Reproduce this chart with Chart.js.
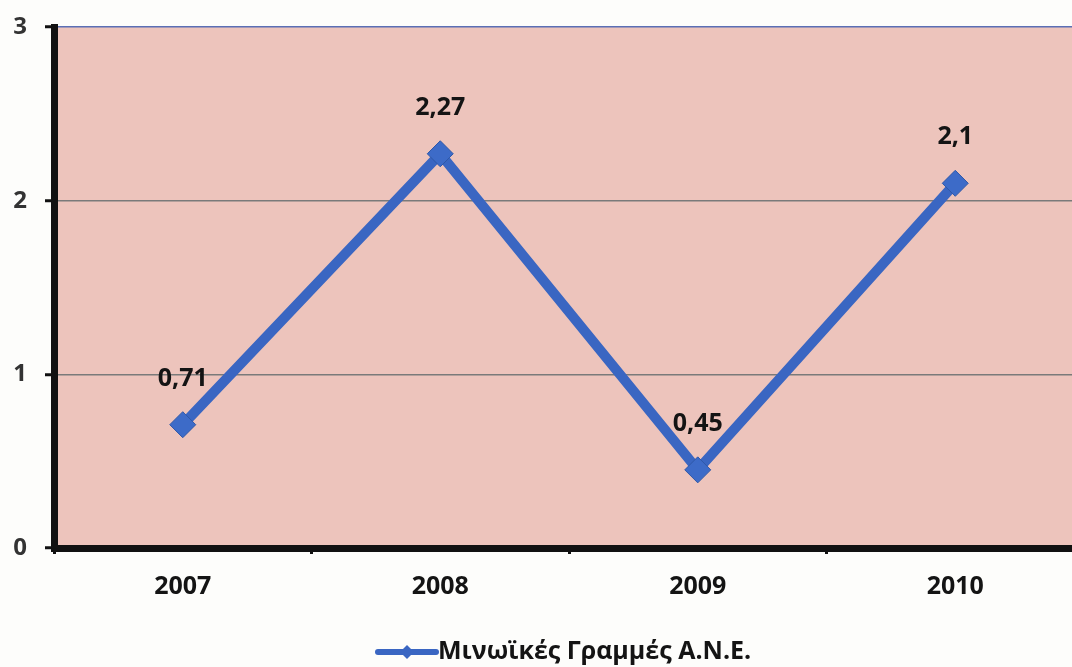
<!DOCTYPE html>
<html>
<head>
<meta charset="utf-8">
<script src="https://cdn.jsdelivr.net/npm/chart.js@4/dist/chart.umd.min.js"></script>
<style>
  html, body { margin: 0; padding: 0; background: #fdfdfb; }
  #wrap { width: 1072px; height: 667px; overflow: hidden; position: relative; }
  canvas { display: block; }
</style>
</head>
<body>
<div id="wrap"><canvas id="c" width="1098" height="667"></canvas></div>
<script>
// Series data
const years = ['2007', '2008', '2009', '2010'];
const values = [0.71, 2.27, 0.45, 2.1];
const valueLabels = ['0,71', '2,27', '0,45', '2,1'];
const seriesName = 'Μινωϊκές Γραμμές Α.Ν.Ε.';
const yTicks = [0, 1, 2, 3];

const FONT = '"Open Sans", "Noto Sans", sans-serif';
const BLUE = '#3a66c2';

// Pink plot-area fill
const plotBackground = {
  id: 'plotBackground',
  beforeDraw(chart) {
    const { ctx, chartArea: a } = chart;
    ctx.save();
    ctx.fillStyle = '#edc4bc';
    ctx.fillRect(a.left, a.top, a.right - a.left, a.bottom - a.top);
    ctx.restore();
  }
};

// Value labels above each point
const valueLabelPlugin = {
  id: 'valueLabelPlugin',
  afterDatasetsDraw(chart) {
    const { ctx } = chart;
    const meta = chart.getDatasetMeta(0);
    ctx.save();
    ctx.font = 'bold 25px ' + FONT;
    ctx.fillStyle = '#141414';
    ctx.textAlign = 'center';
    ctx.textBaseline = 'middle';
    meta.data.forEach((pt, i) => {
      ctx.fillText(valueLabels[i], pt.x, pt.y - 46);
    });
    ctx.restore();
  }
};

// Legend: line with diamond marker, then the series name
const legendPlugin = {
  id: 'legendPlugin',
  afterDraw(chart) {
    const { ctx } = chart;
    const y = 652;
    ctx.save();
    ctx.strokeStyle = BLUE;
    ctx.lineWidth = 6;
    ctx.lineCap = 'round';
    ctx.beginPath();
    ctx.moveTo(378, y);
    ctx.lineTo(436, y);
    ctx.stroke();
    ctx.fillStyle = BLUE;
    ctx.beginPath();
    ctx.moveTo(407, y - 7);
    ctx.lineTo(414, y);
    ctx.lineTo(407, y + 7);
    ctx.lineTo(400, y);
    ctx.closePath();
    ctx.fill();
    ctx.font = 'bold 25px ' + FONT;
    ctx.fillStyle = '#141414';
    ctx.textAlign = 'left';
    ctx.textBaseline = 'middle';
    ctx.fillText(seriesName, 438, y);
    ctx.restore();
  }
};

new Chart(document.getElementById('c'), {
  type: 'line',
  data: {
    labels: years,
    datasets: [{
      label: seriesName,
      data: values,
      borderColor: BLUE,
      borderWidth: 10,
      backgroundColor: BLUE,
      pointStyle: 'rectRot',
      pointRadius: 13,
      pointBackgroundColor: '#3d6bc8',
      pointBorderColor: '#2f58a8',
      pointBorderWidth: 1,
      tension: 0,
      fill: false
    }]
  },
  options: {
    responsive: false,
    animation: false,
    layout: { padding: { top: 27, right: 6, left: 0, bottom: 0 } },
    plugins: {
      legend: { display: false },
      tooltip: { enabled: false }
    },
    scales: {
      x: {
        type: 'category',
        offset: true,
        afterFit(scale) { scale.height = 119; },
        grid: {
          offset: true,
          drawOnChartArea: false,
          drawTicks: true,
          tickLength: 6,
          tickColor: '#111',
          tickWidth: 3
        },
        border: { display: true, color: '#111', width: 7 },
        ticks: {
          padding: 18,
          color: '#141414',
          font: { family: FONT, size: 25, weight: 'bold' }
        }
      },
      y: {
        min: 0,
        max: 3,
        afterFit(scale) {
          scale.width = 54;
          scale.paddingTop = 0;
          scale.paddingBottom = 0;
        },
        afterBuildTicks(scale) { scale.ticks = yTicks.map(v => ({ value: v })); },
        grid: {
          color(ctx) {
            const v = ctx.tick && ctx.tick.value;
            if (v === 3) return '#5b6fb5';
            if (v === 0) return 'rgba(0,0,0,0)';
            return '#7a7a7a';
          },
          lineWidth: 1.5,
          drawTicks: true,
          tickLength: 9,
          tickColor: '#111',
          tickWidth: 3
        },
        border: { display: true, color: '#111', width: 7 },
        ticks: {
          padding: 18,
          color: '#333',
          font: { family: FONT, size: 24, weight: 'bold' }
        }
      }
    }
  },
  plugins: [plotBackground, valueLabelPlugin, legendPlugin]
});
</script>
</body>
</html>
